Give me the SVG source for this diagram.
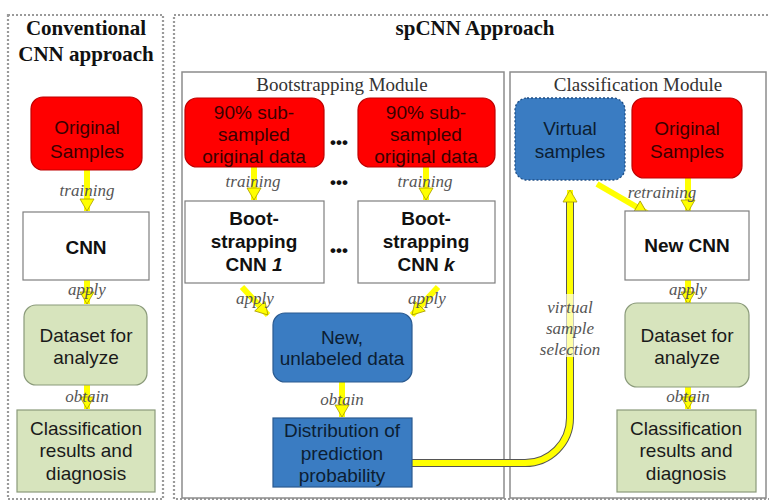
<svg xmlns="http://www.w3.org/2000/svg" width="769" height="504" viewBox="0 0 769 504">
<style>
.outer{fill:none;stroke:#9a9a9a;stroke-width:2.2;stroke-dasharray:2 2}
.title{font-family:"Liberation Serif",serif;font-weight:bold;font-size:21px;fill:#111;text-anchor:middle}
.mod{fill:#fff;stroke:#8c8c8c;stroke-width:1.5}
.modt{font-family:"Liberation Serif",serif;font-size:19px;fill:#333;text-anchor:middle}
.red{fill:#ff0000;stroke:#c00000;stroke-width:1.2}
.white{fill:#fff;stroke:#7f7f7f;stroke-width:1.2}
.green{fill:#d7e4bd;stroke:#8a9a7a;stroke-width:1.2}
.blue{fill:#3a7cc2;stroke:#2a5a90;stroke-width:1.2}
.t{font-family:"Liberation Sans",Arial,sans-serif;font-size:19px;text-anchor:middle}
.tr{fill:#3a0000}
.tk{fill:#1a1a1a}
.tb{fill:#0c1e33}
.bold{font-weight:bold;fill:#111}
.lab{font-family:"Liberation Serif",serif;font-style:italic;font-size:17px;fill:#555;text-anchor:middle}
.arr{stroke:#ffff00;stroke-width:6;fill:none}
.dots{font-family:"Liberation Sans",sans-serif;font-weight:bold;font-size:17px;fill:#111;text-anchor:middle}
</style>
<defs>
<marker id="ah" markerUnits="userSpaceOnUse" markerWidth="16" markerHeight="16" viewBox="0 0 16 16" refX="14" refY="8" orient="auto">
<path d="M2,1 L14,8 L2,15 Z" fill="#ffff00" stroke="#a89a00" stroke-width="0.8"/>
</marker>
</defs>
<rect width="769" height="504" fill="#fff"/>
<rect class="outer" x="8" y="15" width="155" height="484"/>
<rect class="outer" x="174" y="15" width="600" height="484"/>
<text class="title" x="86" y="35">Conventional</text>
<text class="title" x="86" y="61">CNN approach</text>
<text class="title" x="475" y="35">spCNN Approach</text>
<rect class="mod" x="182" y="72" width="322" height="426"/>
<text class="modt" x="342" y="91">Bootstrapping Module</text>
<rect class="mod" x="510" y="72" width="256" height="426"/>
<text class="modt" x="638" y="91">Classification Module</text>

<g id="connectors">
<line class="arr" x1="87" y1="170" x2="87" y2="211" marker-end="url(#ah)"/>
<line class="arr" x1="87" y1="280" x2="87" y2="304" marker-end="url(#ah)"/>
<line class="arr" x1="87" y1="385" x2="87" y2="409" marker-end="url(#ah)"/>
<line class="arr" x1="254" y1="167" x2="254" y2="200" marker-end="url(#ah)"/>
<line class="arr" x1="426" y1="167" x2="426" y2="200" marker-end="url(#ah)"/>
<line class="arr" x1="242" y1="287" x2="268" y2="315" marker-end="url(#ah)"/>
<line class="arr" x1="438" y1="287" x2="412" y2="315" marker-end="url(#ah)"/>
<line class="arr" x1="342" y1="382" x2="342" y2="417" marker-end="url(#ah)"/>
<path d="M412,463 H525 A45,45 0 0 0 570,418 V200" fill="none" stroke="#555" stroke-width="8"/>
<path d="M412,463 H525 A45,45 0 0 0 570,418 V190" class="arr" marker-end="url(#ah)"/>
<line class="arr" x1="597" y1="184" x2="647" y2="213" marker-end="url(#ah)"/>
<line class="arr" x1="688" y1="178" x2="688" y2="212" marker-end="url(#ah)"/>
<line class="arr" x1="688" y1="280" x2="688" y2="304" marker-end="url(#ah)"/>
<line class="arr" x1="688" y1="387" x2="688" y2="409" marker-end="url(#ah)"/>
</g>

<g id="conv_orig"><rect class="red" x="31" y="97" width="111" height="73" rx="12"/>
<text class="t tr" x="87" y="134">Original</text><text class="t tr" x="87" y="158">Samples</text></g>
<text class="lab" x="87" y="196">training</text>
<g id="conv_cnn"><rect class="white" x="23" y="212" width="126" height="68"/>
<text class="t bold" x="86" y="254">CNN</text></g>
<text class="lab" x="87" y="295">apply</text>
<g id="conv_dataset"><rect class="green" x="24" y="305" width="123" height="80" rx="12"/>
<text class="t tk" x="86" y="342">Dataset for</text><text class="t tk" x="86" y="364">analyze</text></g>
<text class="lab" x="87" y="402">obtain</text>
<g id="conv_result"><rect class="green" x="17" y="410" width="138" height="82"/>
<text class="t tk" x="86" y="435">Classification</text><text class="t tk" x="86" y="457">results and</text><text class="t tk" x="86" y="480">diagnosis</text></g>

<g id="sub1"><rect class="red" x="185" y="98" width="139" height="69" rx="12"/>
<text class="t tr" x="254" y="119">90% sub-</text><text class="t tr" x="254" y="141">sampled</text><text class="t tr" x="254" y="163">original data</text></g>
<g id="subk"><rect class="red" x="358" y="98" width="137" height="69" rx="12"/>
<text class="t tr" x="426" y="119">90% sub-</text><text class="t tr" x="426" y="141">sampled</text><text class="t tr" x="426" y="163">original data</text></g>
<text class="dots" x="339" y="148">•••</text>
<text class="dots" x="339" y="188">•••</text>
<text class="lab" x="253" y="187">training</text>
<text class="lab" x="425" y="187">training</text>
<g id="bcnn1"><rect class="white" x="185" y="201" width="139" height="82"/>
<text class="t bold" x="254" y="225">Boot-</text><text class="t bold" x="254" y="248">strapping</text><text class="t bold" x="254" y="271">CNN <tspan font-style="italic">1</tspan></text></g>
<g id="bcnnk"><rect class="white" x="358" y="201" width="137" height="82"/>
<text class="t bold" x="426" y="225">Boot-</text><text class="t bold" x="426" y="248">strapping</text><text class="t bold" x="426" y="271">CNN  <tspan font-style="italic">k</tspan></text></g>
<text class="dots" x="339" y="256">•••</text>
<text class="lab" x="255" y="304">apply</text>
<text class="lab" x="427" y="304">apply</text>
<g id="newdata"><rect class="blue" x="273" y="313" width="139" height="69" rx="12"/>
<text class="t tb" x="342" y="344">New,</text><text class="t tb" x="342" y="365">unlabeled data</text></g>
<text class="lab" x="342" y="405">obtain</text>
<g id="distribution"><rect class="blue" x="273" y="418" width="139" height="69"/>
<text class="t tb" x="342" y="437">Distribution of</text><text class="t tb" x="342" y="460">prediction</text><text class="t tb" x="342" y="482">probability</text></g>

<rect x="540" y="294" width="60" height="63" fill="#fff" opacity="0.65"/>
<text class="lab" x="570" y="313">virtual</text>
<text class="lab" x="570" y="334">sample</text>
<text class="lab" x="570" y="355">selection</text>

<g id="virtual"><rect x="515" y="98" width="110" height="82" rx="12" fill="#3a7cc2" stroke="#1f4e85" stroke-width="1.3" stroke-dasharray="2 2"/>
<text class="t tb" x="570" y="135">Virtual</text><text class="t tb" x="570" y="158">samples</text></g>
<g id="cls_orig"><rect class="red" x="632" y="98" width="110" height="80" rx="12"/>
<text class="t tr" x="687" y="135">Original</text><text class="t tr" x="687" y="158">Samples</text></g>
<text class="lab" x="662" y="198">retraining</text>
<g id="newcnn"><rect class="white" x="625" y="211" width="124" height="69"/>
<text class="t bold" x="687" y="252">New CNN</text></g>
<text class="lab" x="688" y="295">apply</text>
<g id="cls_dataset"><rect class="green" x="625" y="303" width="124" height="84" rx="12"/>
<text class="t tk" x="687" y="342">Dataset for</text><text class="t tk" x="687" y="364">analyze</text></g>
<text class="lab" x="688" y="402">obtain</text>
<g id="cls_result"><rect class="green" x="617" y="410" width="139" height="82"/>
<text class="t tk" x="686" y="435">Classification</text><text class="t tk" x="686" y="457">results and</text><text class="t tk" x="686" y="480">diagnosis</text></g>
</svg>
